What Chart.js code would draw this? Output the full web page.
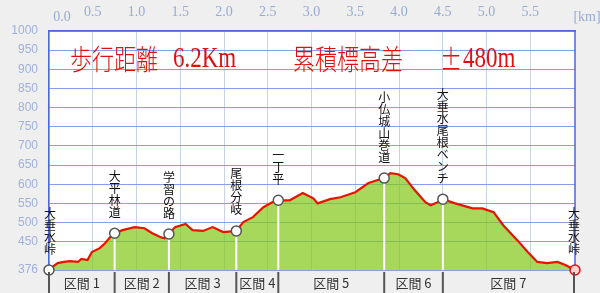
<!DOCTYPE html>
<html>
<head>
<meta charset="utf-8">
<script src="https://cdn.jsdelivr.net/npm/chart.js@4.4.1/dist/chart.umd.min.js"></script>
<style>
  html, body { margin: 0; padding: 0; background: #efefef; }
  #profile { display: block; }
</style>
</head>
<body>
<canvas id="profile" width="600" height="293"></canvas>
<script>
// elevation profile (km, m)
const distKm = [0, 0.02, 0.10, 0.17, 0.24, 0.33, 0.37, 0.44, 0.49, 0.58, 0.64, 0.70, 0.75,
  0.84, 0.98, 1.09, 1.18, 1.27, 1.32, 1.37, 1.44, 1.56, 1.64, 1.76, 1.87, 1.99, 2.14,
  2.22, 2.33, 2.45, 2.55, 2.62, 2.75, 2.90, 3.02, 3.07, 3.21, 3.33, 3.50, 3.65, 3.83,
  3.90, 3.99, 4.07, 4.18, 4.30, 4.36, 4.44, 4.50, 4.64, 4.84, 4.95, 5.08, 5.19, 5.35,
  5.47, 5.58, 5.69, 5.81, 5.90, 6.01];
const elevM = [376, 381, 394, 397, 399, 397, 405, 402, 423, 433, 446, 462, 472,
  480, 488, 485, 472, 462, 459, 470, 488, 496, 480, 478, 488, 475, 478,
  501, 514, 540, 553, 558, 558, 577, 563, 550, 561, 566, 579, 603, 616,
  629, 626, 616, 584, 553, 545, 553, 561, 550, 537, 537, 527, 493, 454,
  423, 397, 394, 397, 389, 376];

// waypoints
const wayNames = ['大垂水峠', '大平林道', '学習の路', '尾根分岐', '一丁平', '小仏城山巻道', '大垂水尾根ベンチ', '大垂水峠'];
const wayKm = [0, 0.75, 1.37, 2.14, 2.62, 3.83, 4.50, 6.01];
const wayElev = [376, 472, 470, 478, 558, 616, 561, 376];

const sectionNames = ['区間 1', '区間 2', '区間 3', '区間 4', '区間 5', '区間 6', '区間 7'];

const xTicks = [0, 0.5, 1.0, 1.5, 2.0, 2.5, 3.0, 3.5, 4.0, 4.5, 5.0, 5.5];
const yTicks = [376, 450, 500, 550, 600, 650, 700, 750, 800, 850, 900, 950, 1000];

// title pieces: [text, left x]
const titleParts = [['歩行距離', 70], ['6.2Km', 173], ['累積標高差', 293], ['±', 440], ['480m', 463]];

const JP = '"Noto Sans CJK JP", sans-serif';

// page background, white plot area, right frame line
const framePlugin = {
  id: 'frame',
  beforeDraw(chart) {
    const { ctx, chartArea: a } = chart;
    ctx.save();
    ctx.fillStyle = '#efefef';
    ctx.fillRect(0, 0, chart.width, chart.height);
    ctx.fillStyle = '#ffffff';
    ctx.fillRect(a.left, a.top, a.right - a.left, a.bottom - a.top);
    ctx.restore();
  },
  beforeDatasetsDraw(chart) {
    const { ctx, chartArea: a } = chart;
    ctx.save();
    ctx.strokeStyle = '#4a66e0';
    ctx.lineWidth = 1.5;
    ctx.beginPath();
    ctx.moveTo(a.right, a.top);
    ctx.lineTo(a.right, a.bottom);
    ctx.stroke();
    ctx.restore();
  }
};

// white drop lines under the waypoint markers
const dropLines = {
  id: 'dropLines',
  beforeDatasetDraw(chart, args) {
    if (args.index !== 1) return;
    const { ctx, chartArea: a } = chart;
    ctx.save();
    ctx.strokeStyle = '#ffffff';
    ctx.lineWidth = 2;
    args.meta.data.forEach(pt => {
      ctx.beginPath();
      ctx.moveTo(pt.x, pt.y);
      ctx.lineTo(pt.x, a.bottom);
      ctx.stroke();
    });
    ctx.restore();
  }
};

// vertical waypoint names, titles, section band, extra tick texts
const labelsPlugin = {
  id: 'labels',
  afterDraw(chart) {
    const { ctx, chartArea: a } = chart;
    const xs = chart.scales.x, ys = chart.scales.y;
    ctx.save();

    // waypoint names, written top to bottom
    ctx.fillStyle = '#111';
    ctx.font = '12px ' + JP;
    ctx.textAlign = 'center';
    ctx.textBaseline = 'middle';
    wayNames.forEach((name, i) => {
      const px = Math.min(Math.max(xs.getPixelForValue(wayKm[i]), a.left + 1), a.right - 1);
      const py = ys.getPixelForValue(wayElev[i]);
      const chars = Array.from(name);
      chars.forEach((c, k) => {
        ctx.fillText(c, px, py - 21 - (chars.length - 1 - k) * 12);
      });
    });

    // title texts (stretched like the original)
    ctx.fillStyle = '#e01010';
    ctx.textAlign = 'left';
    ctx.textBaseline = 'middle';
    ctx.save();
    ctx.translate(0, 59);
    ctx.scale(1, 1.3);
    titleParts.forEach(([t, x]) => {
      ctx.font = /[0-9A-Za-z]/.test(t) ? '300 23px "Liberation Serif"' : '300 22px ' + JP;
      ctx.fillText(t, x, 0);
    });
    ctx.restore();

    // section band
    const bandTop = a.bottom + 2;
    ctx.strokeStyle = '#555';
    ctx.lineWidth = 2;
    const bx = wayKm.map(k => Math.min(Math.max(xs.getPixelForValue(k), a.left), a.right - 1));
    bx.forEach(x => {
      ctx.beginPath();
      ctx.moveTo(x, bandTop);
      ctx.lineTo(x, chart.height);
      ctx.stroke();
    });
    ctx.fillStyle = '#333';
    ctx.font = '13px ' + JP;
    ctx.textAlign = 'center';
    sectionNames.forEach((s, i) => {
      ctx.fillText(s, (bx[i] + bx[i + 1]) / 2, (bandTop + chart.height) / 2 + 1);
    });

    // first x tick label sits right of its tick, unit at the end
    ctx.fillStyle = '#9aaad6';
    ctx.font = '14px "Liberation Serif"';
    ctx.textBaseline = 'alphabetic';
    ctx.fillText('0.0', xs.getPixelForValue(0) + 13, 21);
    ctx.fillText('[km]', a.right + 12, 21);
    ctx.restore();
  }
};

const ctx = document.getElementById('profile').getContext('2d');
new Chart(ctx, {
  type: 'line',
  data: {
    datasets: [
      {
        data: distKm.map((d, i) => ({ x: d, y: elevM[i] })),
        borderColor: '#e81400',
        borderWidth: 2.2,
        backgroundColor: 'rgba(130,198,22,0.7)',
        fill: 'start',
        pointRadius: 0,
        tension: 0,
        order: 2
      },
      {
        data: wayKm.map((d, i) => ({ x: d, y: wayElev[i] })),
        showLine: false,
        pointRadius: 5,
        pointBorderWidth: 1.5,
        pointBackgroundColor: wayKm.map((d, i) => i === wayKm.length - 1 ? '#ffd0d0' : '#ffffff'),
        pointBorderColor: wayKm.map((d, i) => i === wayKm.length - 1 ? '#e01010' : '#555555'),
        clip: false,
        order: 1
      }
    ]
  },
  options: {
    responsive: false,
    animation: false,
    layout: { padding: { left: 0, right: 25, top: 0, bottom: 23 } },
    plugins: { legend: { display: false }, tooltip: { enabled: false } },
    scales: {
      x: {
        type: 'linear',
        position: 'top',
        min: 0,
        max: 6.01,
        afterBuildTicks: s => { s.ticks = xTicks.map(v => ({ value: v })); },
        afterFit: s => { s.height = 31; },
        ticks: {
          callback: v => v === 0 ? '' : v.toFixed(1),
          color: '#9aaad6',
          font: { family: 'Liberation Serif', size: 14 },
          padding: 10,
          maxRotation: 0,
          autoSkip: false
        },
        grid: { color: '#c8d2ea', drawTicks: false },
        border: { color: '#4a66e0', width: 1.5 }
      },
      y: {
        min: 376,
        max: 1000,
        afterBuildTicks: s => { s.ticks = yTicks.map(v => ({ value: v })); },
        afterFit: s => { s.width = 49; },
        ticks: {
          callback: v => String(v),
          color: '#9fb0dc',
          font: { family: 'Liberation Sans', size: 12 },
          padding: 11,
          autoSkip: false
        },
        grid: { color: '#86a0e8', drawTicks: false },
        border: { color: '#4a66e0', width: 1.5 }
      }
    }
  },
  plugins: [framePlugin, dropLines, labelsPlugin]
});
</script>
</body>
</html>
